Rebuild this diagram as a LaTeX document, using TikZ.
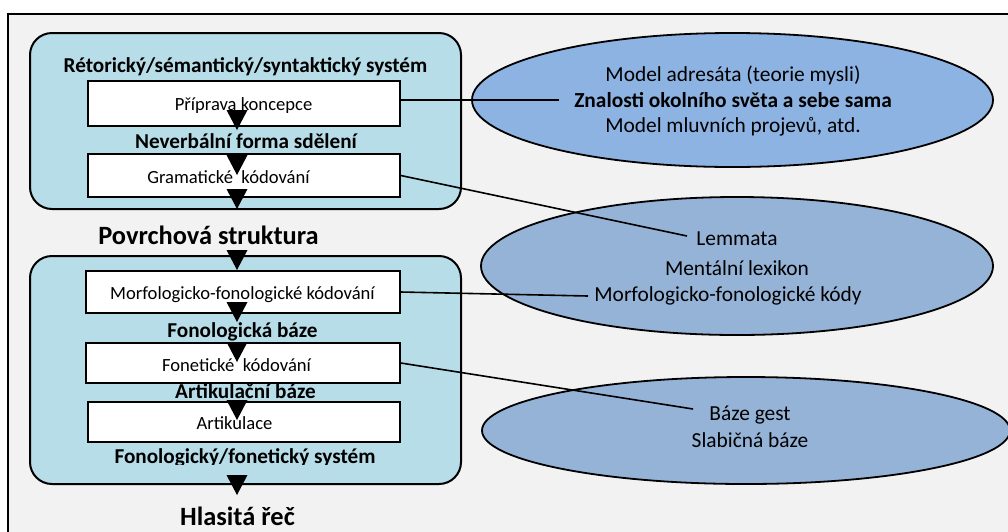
\documentclass[tikz,border=0pt]{standalone}
\usepackage{fontspec}
\setmainfont{Carlito}
\usetikzlibrary{shapes.geometric}

\definecolor{pagegray}{HTML}{F2F2F2}
\definecolor{panelblue}{HTML}{B7DDE8}
\definecolor{worldblue}{HTML}{8DB3E2}
\definecolor{lexblue}{HTML}{95B3D7}

\tikzset{
  frameline/.style={draw=black, line width=2pt, fill=pagegray},
  panel/.style={draw=black, line width=2pt, fill=panelblue, rounded corners=22pt},
  stagebox/.style={draw=black, line width=1.6pt, fill=white, rectangle, inner sep=0pt},
  store/.style={ellipse, draw=black, line width=1.8pt, inner sep=0pt},
  link/.style={draw=black, line width=1.6pt},
  boxtext/.style={anchor=base, inner sep=0pt, font=\fontsize{18.6}{22}\selectfont},
  levellabel/.style={anchor=base, inner sep=0pt, font=\fontsize{21.2}{25}\selectfont\bfseries},
  biglabel/.style={anchor=base, inner sep=0pt, font=\fontsize{26.4}{31}\selectfont\bfseries},
  storetext/.style={anchor=base, inner sep=0pt, font=\fontsize{21.4}{25}\selectfont},
  pics/flowtip/.style={code={\fill[black] (-10.5,-20) -- (10.5,-20) -- (0,0) -- cycle;}}
}

\begin{document}
\begin{tikzpicture}[x=1pt, y=-1pt]
\useasboundingbox (0,0) rectangle (1008,531);
\fill[white] (0,0) rectangle (1008,531);

% outer frame, running off the right and bottom edges
\draw[frameline] (8,14) rectangle (1030,560);

% the two processing panels
\draw[panel] (30,33) rectangle (461,209);
\draw[panel] (30,256) rectangle (461,484);

% processing stages
\node[stagebox, minimum width=312pt, minimum height=45pt] (b1) at (244,103.5) {};
\node[stagebox, minimum width=312pt, minimum height=43pt] (b2) at (244,175.5) {};
\node[stagebox, minimum width=314pt, minimum height=42pt] (b3) at (243,292) {};
\node[stagebox, minimum width=314pt, minimum height=40pt] (b4) at (243,363) {};
\node[stagebox, minimum width=312pt, minimum height=40pt] (b5) at (244,422) {};

\node[boxtext] (t1) at (243.5,110) {Příprava koncepce};
\node[boxtext] (t2) at (228.5,183) {Gramatické\ \ kódování};
\node[boxtext] (t3) at (242.5,299) {Morfologicko-fonologické kódování};
\node[boxtext] (t4) at (236.5,371) {Fonetické\ \ kódování};
\node[boxtext] (t5) at (234.5,429) {Artikulace};

% level labels
\node[levellabel] (l1) at (245.5,72) {Rétorický/sémantický/syntaktický systém};
\node[levellabel] (l2) at (246,148) {Neverbální forma sdělení};
\node[biglabel] (l3) at (208.5,244) {Povrchová struktura};
\node[levellabel] (l4) at (242.5,337) {Fonologická báze};
\node[levellabel] (l5) at (245.5,398) {Artikulační báze};
\begin{scope}
  \clip (0,0) rectangle (1008,464.5);
  \node[levellabel] (l6) at (245,463) {Fonologický/fonetický systém};
\end{scope}
\node[biglabel] (l7) at (237.5,525) {Hlasitá řeč};

% flow arrowheads
\pic at (237,130) {flowtip};
\pic at (237,175) {flowtip};
\pic at (237,209) {flowtip};
\pic at (237,270) {flowtip};
\pic at (237,322) {flowtip};
\pic at (237,362) {flowtip};
\pic at (237,420) {flowtip};
\pic at (237,495) {flowtip};

% knowledge stores
\node[store, fill=worldblue, minimum width=521pt, minimum height=134pt] (e1) at (732.5,100) {};
\node[store, fill=lexblue, minimum width=512pt, minimum height=138pt] (e2) at (737,266) {};
\node[store, fill=lexblue, minimum width=528pt, minimum height=107pt] (e3) at (746,430.5) {};

\node[storetext] (s1a) at (733,81) {Model adresáta (teorie mysli)};
\node[storetext, font=\fontsize{21.4}{25}\selectfont\bfseries] (s1b) at (733,107) {Znalosti okolního světa a sebe sama};
\node[storetext] (s1c) at (733,132) {Model mluvních projevů, atd.};

\node[storetext] (s2a) at (737,245) {Lemmata};
\node[storetext] (s2b) at (737,275) {Mentální lexikon};
\node[storetext] (s2c) at (728,301) {Morfologicko-fonologické kódy};

\node[storetext] (s3a) at (750,420) {Báze gest};
\node[storetext] (s3b) at (750,447) {Slabičná báze};

% links from the stages to the stores
\coordinate (k1) at (559,100);
\coordinate (k2) at (687,236);
\coordinate (k3) at (588,296);
\coordinate (k4) at (693,409);
\draw[link] (b1.east |- k1) -- (k1);
\draw[link] (b2.east) -- (k2);
\draw[link] (b3.east) -- (k3);
\draw[link] (b4.east) -- (k4);
\end{tikzpicture}
\end{document}
